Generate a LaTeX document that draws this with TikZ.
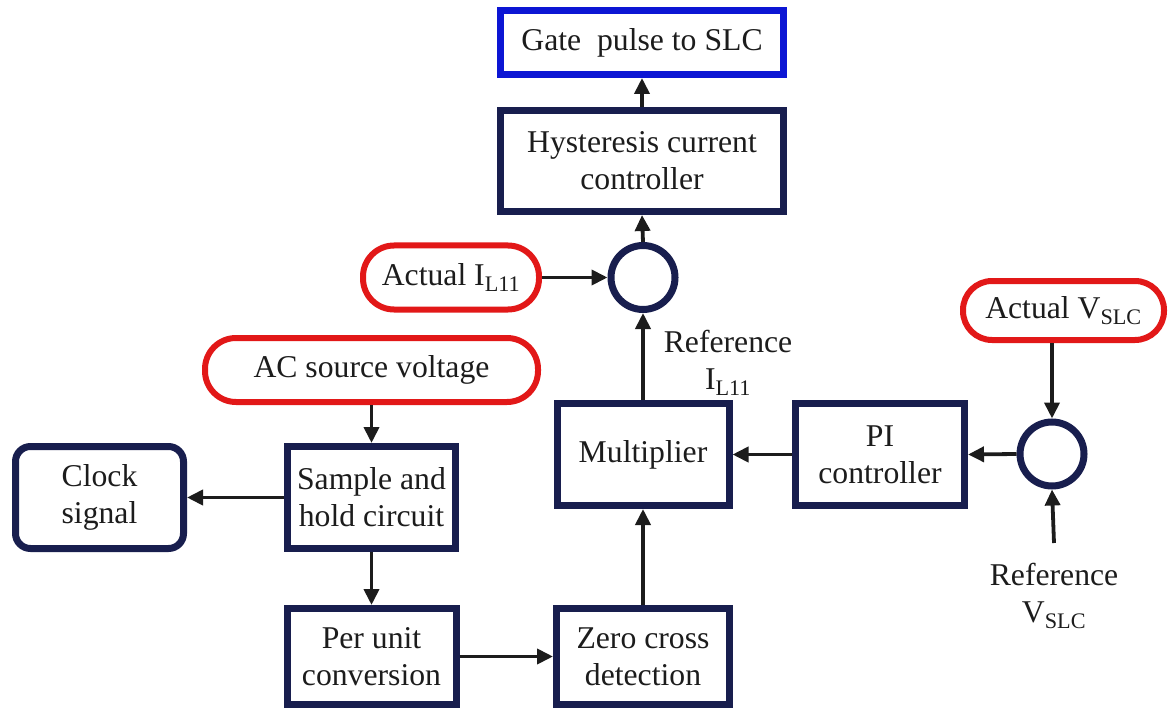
\documentclass[tikz,border=0pt]{standalone}
\usepackage{fontspec}
\setmainfont{Liberation Serif}
\usetikzlibrary{arrows.meta}
\definecolor{navy}{RGB}{24,30,78}
\definecolor{pillred}{RGB}{226,24,24}
\definecolor{gateblue}{RGB}{12,22,212}
\definecolor{ink}{RGB}{28,28,28}
\begin{document}
\begin{tikzpicture}[x=1pt,y=-1pt,
  txt/.style={font=\fontsize{31.7}{37}\selectfont, text=ink, align=center},
  blockbox/.style={txt, draw=navy, line width=7pt, inner sep=0pt, fill=white},
  roundbox/.style={blockbox, rounded corners=15pt},
  gatebox/.style={blockbox, draw=gateblue},
  pill/.style={txt, draw=pillred, line width=6pt, inner sep=0pt, fill=white, rounded corners=31pt},
  sumjunc/.style={circle, draw=navy, line width=7pt, minimum size=64pt, inner sep=0pt},
  label/.style={txt, inner sep=0pt},
  conn/.style={draw=ink, line width=3.8pt, -{Triangle[length=16pt,width=15pt]}}
]
\useasboundingbox (0,0) rectangle (1169,711);

% top chain
\node[gatebox, minimum width=283pt, minimum height=64pt] (gate) at (642,42.5) {Gate\ \ pulse to SLC};
\node[blockbox, minimum width=283pt, minimum height=101pt] (hyst) at (642,161) {Hysteresis current\\controller};
\node[sumjunc] (sumI) at (643,277.5) {};
\node[pill, minimum width=176pt, minimum height=64pt] (actI) at (451,277.5) {Actual I\textsubscript{L11}};
\node[label, anchor=north] (refI) at (728,330) {Reference\\I\textsubscript{L11}};

% middle row
\node[blockbox, minimum width=172pt, minimum height=102pt] (mult) at (643,454.5) {Multiplier};
\node[blockbox, minimum width=169pt, minimum height=102pt] (pi) at (880,454.5) {PI\\controller};
\node[sumjunc] (sumV) at (1052,454) {};
\node[pill, minimum width=201pt, minimum height=59pt, rounded corners=29pt] (actV) at (1063.5,310.5) {Actual V\textsubscript{SLC}};
\node[label, anchor=north] (refV) at (1054,563) {Reference\\V\textsubscript{SLC}};

% left chain
\node[pill, minimum width=333pt, minimum height=64pt] (ac) at (371.5,370) {AC source voltage};
\node[blockbox, minimum width=168pt, minimum height=102pt] (samp) at (371.5,497.5) {Sample and\\hold circuit};
\node[roundbox, minimum width=168pt, minimum height=102pt] (clock) at (99.5,497.5) {Clock\\signal};
\node[blockbox, minimum width=169pt, minimum height=96pt] (per) at (371.5,656.5) {Per unit\\conversion};
\node[blockbox, minimum width=173pt, minimum height=96pt] (zero) at (643,656.5) {Zero cross\\detection};

% connectors
\draw[conn] (hyst.north) -- (gate.south);
\draw[conn] (sumI.north) -- (hyst.south);
\draw[conn] (actI.east) -- (sumI.west);
\draw[conn] (mult.north) -- (sumI.south);
\draw[conn] (pi.west) -- (mult.east);
\draw[conn] (sumV.west) -- (pi.east);
\draw[conn] (sumV |- actV.south) -- (sumV.north);
\draw[conn] ([yshift=20pt]refV.north) -- (sumV.south);
\draw[conn] (zero.north) -- (mult.south);
\draw[conn] (per.east) -- (zero.west);
\draw[conn] (samp.south) -- (per.north);
\draw[conn] (samp.west) -- (clock.east);
\draw[conn] (ac.south) -- (samp.north);
\end{tikzpicture}
\end{document}
